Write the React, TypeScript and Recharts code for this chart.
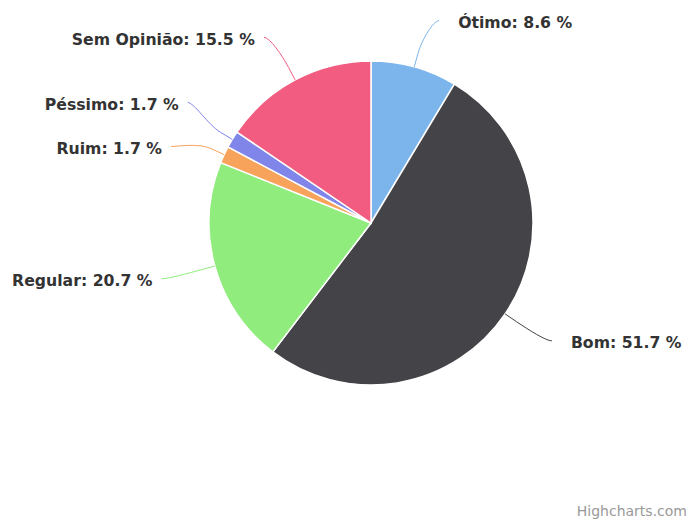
import React from 'react';
import { PieChart, Pie, Cell } from 'recharts';

const categories = ['Ótimo', 'Bom', 'Regular', 'Ruim', 'Péssimo', 'Sem Opinião'];
const shares = [8.6, 51.7, 20.7, 1.7, 1.7, 15.5];
const colors = ['#7cb5ec', '#434348', '#90ed7d', '#f7a35c', '#8085e9', '#f15c80'];

const data = categories.map((name, i) => ({ name, value: shares[i] }));

const W = 690;
const H = 522;
const FONT = '"DejaVu Sans", Verdana, sans-serif';

type LabelPos = { ex: number; ey: number; bx: number; by: number; b2x: number; b2y: number; lx: number; ly: number; left: boolean };

function layout(cx: number, cy: number, r: number): LabelPos[] {
  const total = shares.reduce((a, b) => a + b, 0);
  let cum = 0;
  const ry = r + 48;
  const rx = r + 55;
  const minGap = 44;
  const items = shares.map((v, i) => {
    const t = ((cum + v / 2) / total) * 2 * Math.PI;
    cum += v;
    const s = Math.sin(t);
    const c = Math.cos(t);
    return { i, s, c, left: s < 0, y: cy - ry * c };
  });
  for (const side of [true, false]) {
    const group = items.filter((it) => it.left === side).sort((a, b) => a.y - b.y);
    for (let pass = 0; pass < 5; pass++) {
      for (let k = 1; k < group.length; k++) {
        const gap = group[k].y - group[k - 1].y;
        if (gap < minGap) {
          const push = (minGap - gap) / 2;
          group[k - 1].y -= push;
          group[k].y += push;
        }
      }
    }
  }
  const out: LabelPos[] = [];
  items.forEach((it) => {
    const dy = it.y - cy;
    const circ = Math.sqrt(Math.max(0, rx * rx - dy * dy));
    const dx = 0.5 * (rx * Math.abs(it.s) + circ);
    const lx = cx + (it.left ? -dx : dx);
    const ex = cx + r * it.s;
    const ey = cy - r * it.c;
    const bx = cx + (r + 14) * it.s;
    const by = cy - (r + 14) * it.c;
    const b2x = cx + (r + 28) * it.s;
    const b2y = cy - (r + 28) * it.c;
    out[it.i] = { ex, ey, bx, by, b2x, b2y, lx, ly: it.y, left: it.left };
  });
  return out;
}

const renderLabel = (props: any) => {
  const { index, cx, cy, outerRadius } = props;
  const L = layout(Number(cx), Number(cy), Number(outerRadius))[index];
  const c1x = L.lx + (L.left ? 6 : -6);
  const d = `M ${L.lx} ${L.ly} C ${c1x} ${L.ly} ${L.b2x} ${L.b2y} ${L.bx} ${L.by} L ${L.ex} ${L.ey}`;
  const tx = L.left ? L.lx - 9 : L.lx + 19;
  return (
    <g key={`lbl-${index}`}>
      <path d={d} stroke={colors[index]} strokeWidth={1} fill="none" />
      <text
        x={tx}
        y={L.ly + 2}
        textAnchor={L.left ? 'end' : 'start'}
        dominantBaseline="central"
        fontFamily={FONT}
        fontWeight="bold"
        fontSize={15.7}
        fill="#333333"
      >
        {`${categories[index]}: ${shares[index]} %`}
      </text>
    </g>
  );
};

export default function App() {
  return (
    <div style={{ position: 'fixed', left: 0, top: 0, width: W, height: H, background: '#ffffff' }}>
      <PieChart width={W} height={H} margin={{ top: 0, right: 0, bottom: 0, left: 0 }}>
        <Pie
          data={data}
          dataKey="value"
          nameKey="name"
          cx={371}
          cy={223}
          outerRadius={162}
          startAngle={90}
          endAngle={-270}
          stroke="#ffffff"
          strokeWidth={1.5}
          label={renderLabel}
          labelLine={false}
          isAnimationActive={false}
        >
          {data.map((d, i) => (
            <Cell key={d.name} fill={colors[i]} />
          ))}
        </Pie>
      </PieChart>
      <div
        style={{
          position: 'absolute',
          right: 3,
          top: 503,
          fontFamily: FONT,
          fontSize: 14,
          color: '#999999',
          whiteSpace: 'nowrap',
        }}
      >
        Highcharts.com
      </div>
    </div>
  );
}
